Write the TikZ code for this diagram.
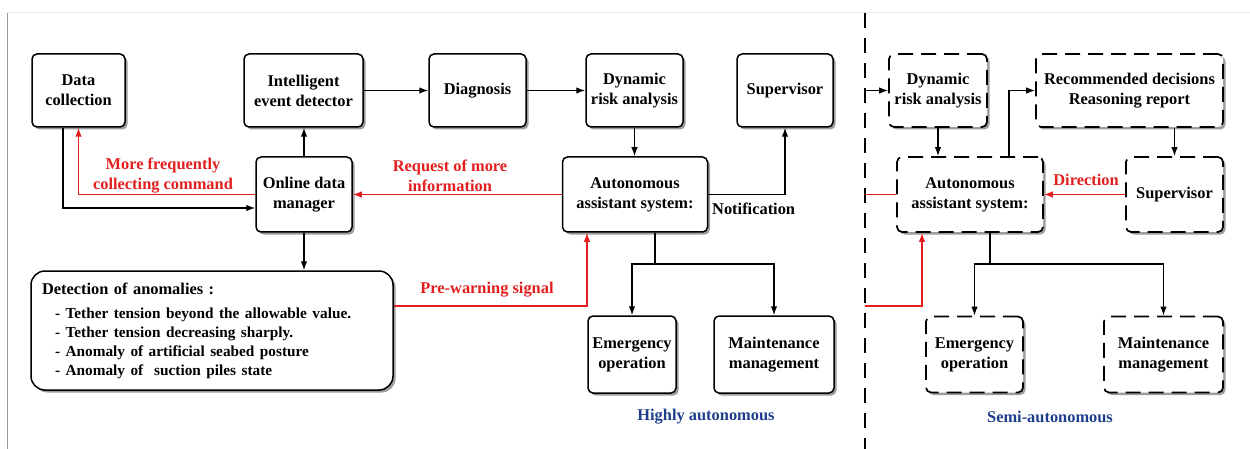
\documentclass[tikz,border=0pt]{standalone}
\usepackage{fontspec}
\setmainfont{Liberation Serif}
\usetikzlibrary{arrows.meta,shadows}
\definecolor{myred}{RGB}{226,30,30}
\definecolor{myblue}{RGB}{30,62,140}
\begin{document}
\begin{tikzpicture}[x=1pt,y=-1pt,
  box/.style={draw, line width=1.5pt, rounded corners=5pt, fill=white, align=center, inner sep=0pt,
    font=\bfseries\fontsize{16.4}{20}\selectfont,
    drop shadow={shadow xshift=2.5pt, shadow yshift=-2.5pt, fill=black!55, opacity=0.7}},
  dbox/.style={box, dash pattern=on 15pt off 8pt, line width=1.7pt},
  arr/.style={line width=1.3pt, -{Latex[length=9pt,width=6.5pt]}},
  rarr/.style={arr, draw=myred},
  rline/.style={line width=1.3pt, draw=myred},
  lbl/.style={font=\bfseries\fontsize{16.4}{20}\selectfont, align=center, inner sep=0pt},
  div/.style={line width=1.3pt, dash pattern=on 15pt off 10pt}
]
\useasboundingbox (0,0) rectangle (1250,449);
% frame
\draw[black!8, line width=1pt] (7,13) -- (1250,13);
\draw[black!40, line width=1pt] (7,13) -- (7,449);
% divider
\draw[div] (865,13) -- (865,449);

% left part nodes
\node[box, minimum width=93pt, minimum height=73pt] (dc) at (78.5,90.5) {Data\\collection};
\node[box, minimum width=119pt, minimum height=73pt] (ied) at (303.5,90.5) {Intelligent\\event detector};
\node[box, minimum width=97pt, minimum height=73pt] (diag) at (477.5,90.5) {Diagnosis};
\node[box, minimum width=97pt, minimum height=73pt] (dra) at (634.5,90.5) {Dynamic\\risk analysis};
\node[box, minimum width=96pt, minimum height=73pt] (sup) at (785,90.5) {Supervisor};
\node[box, minimum width=96pt, minimum height=75pt] (odm) at (304,194.5) {Online data\\manager};
\node[box, minimum width=145pt, minimum height=75pt] (aas) at (635,194.5) {Autonomous\\assistant system:};
\node[box, rounded corners=14pt, minimum width=362pt, minimum height=119pt, text width=340pt, inner xsep=11pt, align=left] (det) at (212,330.5)
  {{\fontsize{16.4}{20}\selectfont Detection of anomalies :\par}\vspace{6pt}
   {\fontsize{15.3}{18.7}\selectfont\leftskip=13pt
   - Tether tension beyond the allowable value.\par
   - Tether tension decreasing sharply.\par
   - Anomaly of artificial seabed posture\par
   - Anomaly of \ suction piles state\par}};
\node[box, minimum width=88pt, minimum height=77pt] (emer) at (632,354.5) {Emergency\\operation};
\node[box, minimum width=120pt, minimum height=77pt] (maint) at (774,354.5) {Maintenance\\management};

% right part nodes
\node[dbox, minimum width=98pt, minimum height=73pt] (dra2) at (938,90.5) {Dynamic\\risk analysis};
\node[dbox, minimum width=187pt, minimum height=73pt] (rec) at (1129.5,90.5) {Recommended decisions\\Reasoning report};
\node[dbox, minimum width=146pt, minimum height=75pt] (aas2) at (970,194.5) {Autonomous\\assistant system:};
\node[dbox, minimum width=97pt, minimum height=75pt] (sup2) at (1174.5,194.5) {Supervisor};
\node[dbox, minimum width=97pt, minimum height=76pt] (emer2) at (974.5,354.5) {Emergency\\operation};
\node[dbox, minimum width=119pt, minimum height=76pt] (maint2) at (1163.5,354.5) {Maintenance\\management};

% labels
\node[lbl, text=myred] (l1) at (163,176) {More frequently\\collecting command};
\node[lbl, text=myred] (l2) at (450,176) {Request of more\\information};
\node[lbl, text=myred] (l3) at (487,290) {Pre-warning signal};
\node[lbl, text=myred] (l4) at (1086,180) {Direction};
\node[lbl, anchor=west] (l5) at (712,209) {Notification};
\node[lbl, text=myblue] (l6) at (706,417) {Highly autonomous};
\node[lbl, text=myblue] (l7) at (1050,417) {Semi-autonomous};

% left connectors
\draw[arr] ([xshift=-15.5pt]dc.south) |- ([yshift=-13.5pt]odm.west);
\draw[rarr] (odm.west) -| (dc.south);
\draw[arr] (odm.north) -- (odm.north |- ied.south);
\draw[arr] (ied.east) -- (diag.west);
\draw[arr] (diag.east) -- (dra.west);
\draw[arr] (dra.south) -- (dra.south |- aas.north);
\draw[arr] (aas.east) -| (sup.south);
\draw[rarr] (aas.west) -- (odm.east);
\draw[arr] (odm.south) -- (odm.south |- det.north);
\draw[rarr] ([yshift=24.5pt]det.east) -| ([xshift=-48pt]aas.south);
\coordinate (b1) at (655,264);
\draw[line width=1.3pt] ([xshift=20pt]aas.south) -- (b1);
\draw[arr] (b1) -| (emer.north);
\draw[arr] (b1) -| (maint.north);

% right connectors
\coordinate (d1) at (865,90.5);
\coordinate (d2) at (865,194.5);
\coordinate (d3) at (865,306);
\draw[arr] (d1) -- (dra2.west);
\draw[arr] (dra2.south) -- (dra2.south |- aas2.north);
\draw[arr] ([xshift=39pt]aas2.north) |- (rec.west);
\draw[arr] (sup2.north |- rec.south) -- (sup2.north);
\draw[rarr] (sup2.west) -- (aas2.east);
\draw[rline] (d2) -- (aas2.west);
\draw[rarr] (d3) -| ([xshift=-48pt]aas2.south);
\coordinate (b2) at (990,264);
\draw[line width=1.3pt] ([xshift=20pt]aas2.south) -- (b2);
\draw[arr] (b2) -| (emer2.north);
\draw[arr] (b2) -| (maint2.north);
\end{tikzpicture}
\end{document}
